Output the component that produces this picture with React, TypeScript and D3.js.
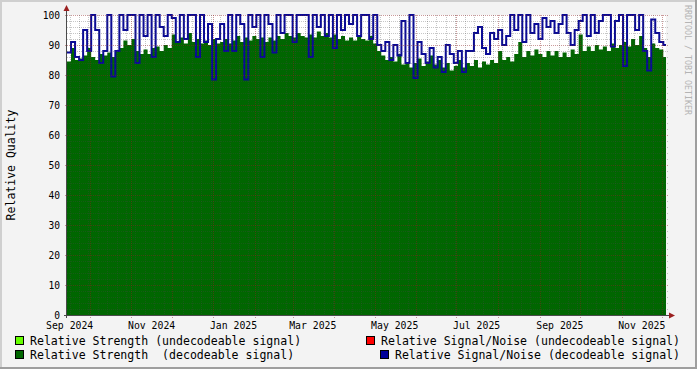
import * as d3 from "d3";
import React, { useEffect, useRef } from "react";

const W = 697;
const H = 369;

// one sample every 3 days, starting at this day
const START = "2024-09-14";
const STEP_DAYS = 3;
const SPAN_DAYS = 446;

// Relative Strength (decodeable signal)
const strength = [
	84.5, 89, 85, 85.5, 86.5, 89, 86, 85, 87, 86.5,
	87.5, 86, 88, 89, 91.5, 90, 92, 88, 87, 88.5,
	87, 89, 89.5, 88, 90, 89, 93.5, 91, 92.5, 90.5,
	94, 91, 92, 90.5, 91.5, 90, 92, 90.5, 91, 92,
	90.5, 91.5, 93, 91, 92.5, 91.5, 93, 92, 92.5, 91,
	92.5, 91.5, 93, 92, 94, 93, 92.5, 94, 93, 92.5,
	93.5, 92.5, 94.5, 93, 94, 92.5, 93.5, 92, 93, 91.5,
	92.5, 91.5, 93, 92, 91.5, 93, 90.5, 88, 86.5, 85,
	86, 84.5, 87, 83.5, 84, 82.5, 84, 85.5, 83, 84.5,
	86.5, 83.5, 85, 82.5, 84, 81.5, 83, 85, 82.5, 84,
	83, 85, 82.5, 84.5, 83.5, 85, 84, 88, 85, 86,
	84.5, 87, 91, 86, 88, 86.5, 88.5, 87, 86, 88,
	86.5, 88, 86, 87.5, 86, 88.5, 87, 93.5, 88, 89.5,
	88, 90, 88.5, 89.5, 88, 90.5, 89, 90, 91, 89.5,
	92, 90, 93, 89, 86, 90.5, 89, 88.5, 86,
];

// Relative Signal/Noise (decodeable signal)
const snr = [
	87.5, 91, 86, 85, 95, 88, 100, 95, 84, 88,
	100, 79.5, 88, 100, 95, 100, 100, 84, 100, 93,
	100, 86, 100, 96, 93, 100, 99, 91, 100, 92,
	100, 100, 86, 100, 91, 97, 78.5, 92, 97, 88,
	100, 88, 100, 97, 78.5, 100, 96, 100, 86, 100,
	97, 87.5, 100, 94, 100, 100, 91, 100, 100, 100,
	86, 100, 96, 100, 93, 100, 89, 100, 95, 100,
	97, 100, 93, 100, 100, 92, 100, 90, 88, 91,
	85, 90, 86.5, 98, 84, 100, 79, 91, 87, 84,
	89, 82.5, 86, 81, 90, 87, 84, 88, 81, 88,
	88, 94, 96, 89, 87, 94, 92, 95, 90, 93,
	100, 95, 100, 91, 100, 94, 97, 92, 99, 96,
	98, 94, 97, 100, 94, 90, 95, 98, 100, 93,
	100, 94, 98, 100, 100, 89.5, 98, 100, 83, 100,
	100, 95, 100, 88, 81.5, 98.5, 94, 91, 90,
];

const yTicks = [0, 10, 20, 30, 40, 50, 60, 70, 80, 90, 100];
const xLabelMonths = [
	"2024-09-01", "2024-11-01", "2025-01-01", "2025-03-01",
	"2025-05-01", "2025-07-01", "2025-09-01", "2025-11-01",
];

const legendLeft = [
	{ color: "#66FF00", label: "Relative Strength (undecodeable signal)" },
	{ color: "#006600", label: "Relative Strength  (decodeable signal)" },
];
const legendRight = [
	{ color: "#FF0000", label: "Relative Signal/Noise (undecodeable signal)" },
	{ color: "#000099", label: "Relative Signal/Noise (decodeable signal)" },
];

const MONO = "'DejaVu Sans Mono', monospace";

const App = () => {
	const svgRef = useRef(null);

	useEffect(() => {
		if (!svgRef.current) return;
		const svg = d3.select(svgRef.current);
		svg.selectAll("*").remove();

		const parse = d3.utcParse("%Y-%m-%d");
		const start = parse(START);
		const end = d3.utcDay.offset(start, SPAN_DAYS);

		const left = 67;
		const right = 666;
		const top = 15;
		const bottom = 315;

		const x = d3.scaleUtc().domain([start, end]).range([left, right]);
		const y = d3.scaleLinear().domain([0, 100]).range([bottom, top]);

		const toPoints = (vals) => {
			const pts = vals.map((v, i) => ({
				t: d3.utcDay.offset(start, i * STEP_DAYS),
				v,
			}));
			pts.push({ t: end, v: vals[vals.length - 1] });
			return pts;
		};

		// background + shaded frame
		svg.append("rect").attr("width", W).attr("height", H).attr("fill", "#F3F3F3");
		svg.append("path").attr("d", `M0,0H${W}V2H2V${H}H0Z`).attr("fill", "#CFCFCF");
		svg
			.append("path")
			.attr("d", `M${W},${H}H0V${H - 2}H${W - 2}V0H${W}Z`)
			.attr("fill", "#9E9E9E");

		svg
			.append("rect")
			.attr("x", left)
			.attr("y", top)
			.attr("width", right - left)
			.attr("height", bottom - top)
			.attr("fill", "#FFFFFF");

		// green area
		const area = d3
			.area()
			.x((d) => x(d.t))
			.y0(y(0))
			.y1((d) => y(d.v))
			.curve(d3.curveStepAfter);

		svg
			.append("path")
			.datum(toPoints(strength))
			.attr("fill", "#006600")
			.attr("d", area);

		// blue line
		const line = d3
			.line()
			.x((d) => x(d.t))
			.y((d) => y(d.v))
			.curve(d3.curveStepAfter);

		svg
			.append("path")
			.datum(toPoints(snr))
			.attr("fill", "none")
			.attr("stroke", "#0A0A96")
			.attr("stroke-width", 2)
			.attr("stroke-linejoin", "miter")
			.attr("d", line);

		// grid (drawn over the data, like the original)
		const minorCol = "rgba(70,70,70,0.3)";
		const majorCol = "rgba(140,30,30,0.45)";
		const g = svg.append("g").attr("shape-rendering", "crispEdges");

		const minorY = d3.range(0, 101, 2).filter((v) => v % 10 !== 0);
		g.selectAll(".hmin")
			.data(minorY)
			.enter()
			.append("line")
			.attr("x1", left)
			.attr("x2", right + 3)
			.attr("y1", (d) => Math.round(y(d)) + 0.5)
			.attr("y2", (d) => Math.round(y(d)) + 0.5)
			.attr("stroke", minorCol)
			.attr("stroke-dasharray", "1,1");

		g.selectAll(".hmaj")
			.data(yTicks.filter((v) => v > 0))
			.enter()
			.append("line")
			.attr("x1", left - 2)
			.attr("x2", right + 3)
			.attr("y1", (d) => Math.round(y(d)) + 0.5)
			.attr("y2", (d) => Math.round(y(d)) + 0.5)
			.attr("stroke", majorCol)
			.attr("stroke-dasharray", "1,1");

		const months = d3.utcMonth.range(start, end);
		const weeks = d3.utcMonday
			.range(start, end)
			.filter((w) => Math.abs(x(w) - x(d3.utcMonth.floor(w))) > 2);

		g.selectAll(".vmin")
			.data(weeks)
			.enter()
			.append("line")
			.attr("x1", (d) => Math.round(x(d)) + 0.5)
			.attr("x2", (d) => Math.round(x(d)) + 0.5)
			.attr("y1", top)
			.attr("y2", bottom + 2)
			.attr("stroke", minorCol)
			.attr("stroke-dasharray", "1,1");

		g.selectAll(".vmaj")
			.data(months)
			.enter()
			.append("line")
			.attr("x1", (d) => Math.round(x(d)) + 0.5)
			.attr("x2", (d) => Math.round(x(d)) + 0.5)
			.attr("y1", top)
			.attr("y2", bottom + 3)
			.attr("stroke", majorCol)
			.attr("stroke-dasharray", "1,1");

		// axes
		const axisCol = "#4A4A4A";
		const arrowCol = "#9B2020";
		g.append("line")
			.attr("x1", left - 0.5)
			.attr("x2", left - 0.5)
			.attr("y1", bottom + 3)
			.attr("y2", 9)
			.attr("stroke", axisCol);
		g.append("line")
			.attr("x1", left - 3)
			.attr("x2", right + 3)
			.attr("y1", bottom + 0.5)
			.attr("y2", bottom + 0.5)
			.attr("stroke", axisCol);
		svg
			.append("path")
			.attr("d", `M${left - 0.5},5L${left + 2.5},11L${left - 3.5},11Z`)
			.attr("fill", arrowCol);
		svg
			.append("path")
			.attr("d", `M${right + 9},${bottom + 0.5}L${right + 3},${bottom + 3.5}L${right + 3},${bottom - 2.5}Z`)
			.attr("fill", arrowCol);

		// y tick labels
		svg
			.append("g")
			.selectAll("text")
			.data(yTicks)
			.enter()
			.append("text")
			.attr("x", 60)
			.attr("y", (d) => y(d) + 0.5)
			.attr("text-anchor", "end")
			.attr("dominant-baseline", "central")
			.style("font-family", MONO)
			.style("font-size", "9.6px")
			.style("fill", "#000")
			.text((d) => d);

		// x labels, centred on the middle of the month
		const fmt = d3.utcFormat("%b %Y");
		svg
			.append("g")
			.selectAll("text")
			.data(xLabelMonths.map(parse))
			.enter()
			.append("text")
			.attr("x", (d) => x(d3.utcDay.offset(d, 15)))
			.attr("y", 328.5)
			.attr("text-anchor", "middle")
			.style("font-family", MONO)
			.style("font-size", "9.8px")
			.style("fill", "#000")
			.text(fmt);

		// y axis title
		svg
			.append("text")
			.attr("transform", "translate(11,165) rotate(-90)")
			.attr("text-anchor", "middle")
			.attr("dominant-baseline", "central")
			.style("font-family", MONO)
			.style("font-size", "11.5px")
			.style("fill", "#000")
			.text("Relative Quality");

		// watermark
		svg
			.append("text")
			.attr("transform", "translate(685,5) rotate(90)")
			.style("font-family", MONO)
			.style("font-size", "8.3px")
			.style("fill", "#B4B4B4")
			.text("RRDTOOL / TOBI OETIKER");

		// legend
		const legendY = [341, 355];
		legendLeft.forEach((item, i) => {
			svg
				.append("rect")
				.attr("x", 15.5)
				.attr("y", legendY[i] - 4.5)
				.attr("width", 8)
				.attr("height", 8)
				.attr("fill", item.color)
				.attr("stroke", "#000");
			svg
				.append("text")
				.attr("x", 30)
				.attr("y", legendY[i])
				.attr("dominant-baseline", "central")
				.style("white-space", "pre")
				.style("font-family", MONO)
				.style("font-size", "11.55px")
				.style("fill", "#000")
				.text(item.label);
		});
		legendRight.forEach((item, i) => {
			const txt = svg
				.append("text")
				.attr("x", 680)
				.attr("y", legendY[i])
				.attr("text-anchor", "end")
				.attr("dominant-baseline", "central")
				.style("white-space", "pre")
				.style("font-family", MONO)
				.style("font-size", "11.55px")
				.style("fill", "#000")
				.text(item.label);
			const bb = txt.node().getBBox();
			svg
				.append("rect")
				.attr("x", Math.round(bb.x) - 14.5)
				.attr("y", legendY[i] - 4.5)
				.attr("width", 8)
				.attr("height", 8)
				.attr("fill", item.color)
				.attr("stroke", "#000");
		});
	}, []);

	return (
		<svg
			ref={svgRef}
			width={W}
			height={H}
			style={{ position: "absolute", left: 0, top: 0, display: "block" }}
		/>
	);
};

export default App;
